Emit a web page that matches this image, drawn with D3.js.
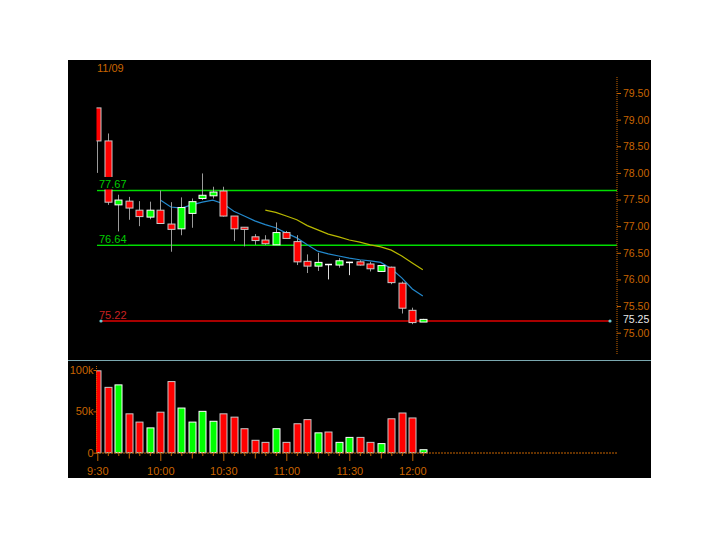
<!DOCTYPE html>
<html><head><meta charset="utf-8">
<script src="https://cdn.jsdelivr.net/npm/d3@7/dist/d3.min.js"></script>
<style>
html,body{margin:0;padding:0;background:#fff;}
svg text{font-family:"Liberation Sans",Arial,sans-serif;}
</style></head>
<body>
<svg id="c" width="720" height="540"></svg>
<script>
const dateLabel = "11/09";
const times = ["9:30","9:35","9:40","9:45","9:50","9:55","10:00","10:05","10:10","10:15","10:20","10:25","10:30","10:35","10:40","10:45","10:50","10:55","11:00","11:05","11:10","11:15","11:20","11:25","11:30","11:35","11:40","11:45","11:50","11:55","12:00","12:05"];
const timeLabels = ["9:30","10:00","10:30","11:00","11:30","12:00"];
const open  = [79.22,78.60,77.40,77.47,77.30,77.17,77.30,77.04,76.95,77.24,77.52,77.57,77.66,77.19,76.98,76.80,76.74,76.65,76.88,76.71,76.34,76.25,76.28,76.27,76.32,76.33,76.29,76.15,76.23,75.93,75.42,75.20];
const high  = [79.22,78.74,77.59,77.55,77.47,77.46,77.67,77.45,77.54,77.52,77.99,77.74,77.74,77.19,76.98,76.85,76.83,77.07,76.91,76.83,76.47,76.50,76.28,76.40,76.33,76.36,76.33,76.26,76.24,75.96,75.47,75.26];
const low   = [78.00,77.40,76.90,77.12,77.00,77.13,77.04,76.52,76.83,76.97,77.49,77.52,77.18,76.72,76.62,76.65,76.65,76.65,76.77,76.27,76.12,76.16,76.00,76.22,76.08,76.26,76.15,76.14,75.91,75.36,75.16,75.20];
const close = [78.60,77.45,77.49,77.34,77.18,77.30,77.05,76.94,77.35,77.46,77.58,77.64,77.19,76.95,76.94,76.73,76.67,76.88,76.77,76.33,76.25,76.32,76.28,76.35,76.32,76.27,76.20,76.26,75.94,75.46,75.19,75.25];
const volume = [99000,79000,82000,47000,37000,30000,49000,86000,54000,37000,50000,38000,47000,43000,29000,15000,12500,29000,12500,35000,40000,24000,25000,12500,18500,18500,12500,11000,41000,48000,42000,3600];
const volumeUp = [0,0,1,0,0,1,0,0,1,1,1,1,0,0,0,0,0,1,0,0,0,1,0,1,1,0,0,1,0,0,0,1];
const maFast = [null,null,null,null,null,null,77.49,77.36,77.34,77.40,77.45,77.49,77.42,77.28,77.19,77.10,77.03,76.97,76.87,76.78,76.65,76.53,76.48,76.44,76.40,76.37,76.35,76.32,76.20,76.03,75.82,75.69];
const maSlow = [null,null,null,null,null,null,null,null,null,null,null,null,null,null,null,null,77.30,77.26,77.19,77.12,77.01,76.93,76.85,76.80,76.74,76.70,76.65,76.61,76.55,76.44,76.31,76.18];
const levelLines = [77.67, 76.64];
const supportLine = 75.22;
const lastPrice = 75.25;
const priceTicks = [75.00,75.50,76.00,76.50,77.00,77.50,78.00,78.50,79.00,79.50];
const volumeTicks = [0,50000,100000];

const ORANGE = "#c86400";
const svg = d3.select("#c");
svg.append("rect").attr("x",68).attr("y",60).attr("width",583).attr("height",418).attr("fill","#000");

const x = d3.scalePoint().domain(times).range([97.3, 422.8]);
const y = d3.scaleLinear().domain([75, 79.5]).range([332.7, 93]);
const vy = d3.scaleLinear().domain([0, 100000]).range([452.7, 370]);
const idx = d3.range(times.length);

svg.append("defs").append("clipPath").attr("id","pc").append("rect")
  .attr("x",96.5).attr("y",60).attr("width",520).attr("height",300);

// date label
svg.append("text").attr("x",97).attr("y",72).attr("fill",ORANGE).attr("font-size",11).text(dateLabel);

// level lines
const g = svg.append("g");
levelLines.forEach(v => {
  g.append("line").attr("x1",97).attr("x2",617).attr("y1",y(v)).attr("y2",y(v))
    .attr("stroke","#00dd00").attr("stroke-width",1.5);
});
g.append("line").attr("x1",101).attr("x2",610).attr("y1",y(supportLine)).attr("y2",y(supportLine))
  .attr("stroke","#e00000").attr("stroke-width",1.5);
[101,610].forEach(px => g.append("circle").attr("cx",px).attr("cy",y(supportLine)).attr("r",1.6).attr("fill","#6cc8d0"));

// moving averages
const lineGen = d3.line().defined(d => d[1] != null).x(d => x(times[d[0]])).y(d => y(d[1]));
svg.append("path").attr("d", lineGen(idx.map(i => [i, maSlow[i]]))).attr("fill","none").attr("stroke","#b8b800").attr("stroke-width",1.2);
svg.append("path").attr("d", lineGen(idx.map(i => [i, maFast[i]]))).attr("fill","none").attr("stroke","#2288cc").attr("stroke-width",1.2);

// candles
const cg = svg.append("g").attr("clip-path","url(#pc)");
const cw = 7;
idx.forEach(i => {
  const cx = Math.round(x(times[i])) + 0.5;
  const up = close[i] > open[i], down = close[i] < open[i];
  cg.append("line").attr("x1",cx).attr("x2",cx).attr("y1",y(high[i])).attr("y2",y(low[i]))
    .attr("stroke", (up||down) ? "#9a9a9a" : "#dddddd").attr("stroke-width",1);
  if (up || down) {
    const top = y(Math.max(open[i], close[i])), bot = y(Math.min(open[i], close[i]));
    cg.append("rect").attr("x",cx - cw/2).attr("y",top).attr("width",cw).attr("height",Math.max(1,bot-top))
      .attr("fill", up ? "#00ff00" : "#ff0000").attr("stroke", up ? "#ffffff" : "#c8c8c8").attr("stroke-width",1);
  } else {
    cg.append("line").attr("x1",cx - cw/2).attr("x2",cx + cw/2).attr("y1",y(open[i])).attr("y2",y(open[i]))
      .attr("stroke","#ffffff").attr("stroke-width",1.5);
  }
});

// level labels with black backgrounds
levelLines.forEach(v => {
  svg.append("rect").attr("x",97).attr("y",y(v)-13.5).attr("width",31).attr("height",12.5).attr("fill","#000");
  svg.append("text").attr("x",99).attr("y",y(v)-2.5).attr("fill","#00cc00").attr("font-size",11).text(v.toFixed(2));
});
svg.append("text").attr("x",99).attr("y",y(supportLine)-2).attr("fill","#c82020").attr("font-size",11).text(supportLine.toFixed(2));

// right price axis
svg.append("line").attr("x1",617).attr("x2",617).attr("y1",77).attr("y2",355)
  .attr("stroke",ORANGE).attr("stroke-dasharray","1,1");
const ax = svg.append("g").attr("transform","translate(617,0)")
  .call(d3.axisRight(y).tickValues(priceTicks).tickFormat(d3.format(".2f")).tickSize(4).tickPadding(2));
ax.select(".domain").remove();
ax.selectAll("line").attr("stroke",ORANGE);
ax.selectAll("text").attr("fill",ORANGE).attr("font-size",10.5).attr("font-family","Liberation Sans, Arial, sans-serif");
svg.append("text").attr("x",623).attr("y",y(lastPrice)+3.5).attr("fill","#e8e8e8").attr("font-size",10.5).text(lastPrice.toFixed(2));

// separator
svg.append("line").attr("x1",68).attr("x2",651).attr("y1",360.5).attr("y2",360.5).attr("stroke","#7aa8b0").attr("stroke-width",1);

// volume bars
const vg = svg.append("g").attr("clip-path","url(#vc)");
svg.select("defs").append("clipPath").attr("id","vc").append("rect").attr("x",96).attr("y",362).attr("width",530).attr("height",100);
idx.forEach(i => {
  const cx = Math.round(x(times[i])) + 0.5;
  vg.append("rect").attr("x",cx - 3.5).attr("y",vy(volume[i])).attr("width",7).attr("height",vy(0)-vy(volume[i]))
    .attr("fill", volumeUp[i] ? "#00ff00" : "#ff0000").attr("stroke", volumeUp[i] ? "#ffffff" : "#c8c8c8").attr("stroke-width",1);
});

// volume axis
svg.append("line").attr("x1",96.5).attr("x2",96.5).attr("y1",366).attr("y2",453).attr("stroke",ORANGE).attr("stroke-dasharray","1,1");
const vax = svg.append("g").attr("transform","translate(96.5,0)")
  .call(d3.axisLeft(vy).tickValues(volumeTicks).tickFormat(d => d === 0 ? "0" : (d/1000) + "k").tickSize(3).tickPadding(0));
vax.select(".domain").remove();
vax.selectAll("line").attr("stroke",ORANGE);
vax.selectAll("text").attr("fill",ORANGE).attr("font-size",11).attr("font-family","Liberation Sans, Arial, sans-serif");

// time axis
svg.append("line").attr("x1",96).attr("x2",617).attr("y1",453).attr("y2",453).attr("stroke",ORANGE).attr("stroke-dasharray","2,1");
const tax = svg.append("g").attr("transform","translate(0,453)")
  .call(d3.axisBottom(x).tickSize(3).tickPadding(11).tickFormat(d => timeLabels.includes(d) ? d : ""));
tax.select(".domain").remove();
tax.selectAll(".tick line").attr("stroke",ORANGE).attr("y2",(d,i) => i % 6 === 0 ? 8 : (i % 3 === 0 ? 5.5 : 3));
tax.selectAll("text").attr("fill",ORANGE).attr("font-size",11).attr("font-family","Liberation Sans, Arial, sans-serif");
</script>
</body></html>
